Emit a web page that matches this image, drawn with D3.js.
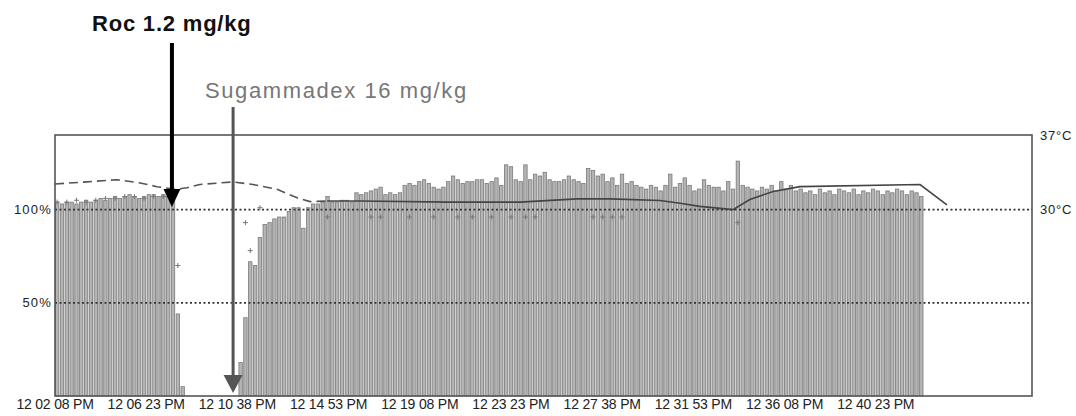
<!DOCTYPE html>
<html><head><meta charset="utf-8">
<script src="https://cdn.jsdelivr.net/npm/d3@7"></script>
<style>
html,body{margin:0;padding:0;background:#fff;}
svg{display:block;font-family:"Liberation Sans",Arial,sans-serif;}
</style></head>
<body><svg id="c" width="1076" height="416"></svg>
<script>
// ---------- data ----------
const axisStartClock = "12:02:08";
const axisEndClock = "12:47:40";
const tickClocks = ["12:02:08","12:06:23","12:10:38","12:14:53","12:19:08","12:23:23","12:27:38","12:31:53","12:36:08","12:40:23"];
const firstBarClock = "12:02:14";
const barIntervalSec = 13.5;
// TOF response (%) per measurement; null = no response recorded
const tofValues = [
 104,103,104,104,103,104,105,104,105,106,105,106,107,106,107,108,107,106,107,108,108,107,108,107,105,
 44,5,
 null,null,null,null,null,null,null,null,null,null,null,
 18,42,72,70,85,92,93,95,96,96,99,101,101,90,101,103,103,104,107,104,
 104,105,105,104,109,108,109,110,111,112,108,109,108,109,113,114,113,115,116,114,
 112,111,112,115,118,116,114,115,115,116,116,114,115,117,113,124,123,116,115,124,
 116,119,118,120,116,115,115,116,118,116,115,114,122,121,118,119,115,117,113,119,
 114,115,113,112,111,113,112,110,113,119,112,114,117,113,110,111,116,113,112,112,
 110,115,111,126,113,112,111,110,112,111,113,110,115,111,113,110,111,109,110,108,
 111,109,110,108,111,110,109,111,108,110,109,111,110,108,110,109,111,110,108,110,109,107
];
// T1 markers: measurement index and value (%)
const t1Index = [0,2,4,6,8,10,12,14,16,18,20,22,24,25,39,40,42,56,65,67,73,78,83,86,90,94,97,99,111,113,115,117,141];
const t1Values = [104,104,105,104,105,106,106,107,107,106,107,107,106,70,93,78,101,96,96,96,96,96,96,96,96,96,96,96,96,96,96,96,93];
// temperature (°C)
const tempClocks = ["12:02:08","12:03:37","12:05:01","12:06:06","12:06:53","12:07:44","12:08:17","12:08:53","12:10:26","12:11:22","12:12:29","12:13:25","12:14:01","12:14:49","12:16:21","12:20:32","12:23:48","12:26:28","12:28:00","12:30:20","12:31:16","12:32:11","12:33:44","12:34:31","12:35:36","12:36:51","12:42:27","12:43:42"];
const tempValues = [32.4,32.6,32.8,32.5,32.15,31.9,32.05,32.35,32.6,32.35,31.9,31.1,30.75,30.8,30.8,30.7,30.7,31.0,31.0,30.85,30.6,30.3,30.0,30.95,31.7,32.15,32.35,30.45];
const tempDashedCount = 14;
const yTickValues = [50,100];
const yTickLabels = ["50%","100%"];
const tempTickValues = [37,30];
const tempTickLabels = ["37°C","30°C"];
const annotations = [
  {label:"Roc 1.2 mg/kg", clock:"12:07:35"},
  {label:"Sugammadex 16 mg/kg", clock:"12:10:26"}
];

// ---------- drawing ----------
const svg = d3.select("#c");
const parse = d3.timeParse("%H:%M:%S");
const L = 55, R = 1032, T = 135, B = 396;

const x = d3.scaleTime().domain([parse(axisStartClock), parse(axisEndClock)]).range([L, R]);
const y = d3.scaleLinear().domain([0, 140]).range([B, T]);
const yT = d3.scaleLinear().domain([30, 37]).range([y(100), T]);

const t0 = parse(firstBarClock);
const bars = tofValues.map((v,i)=>({i, v, t: new Date(t0.getTime() + i*barIntervalSec*1000)}));
const barW = 3.4;

// bars
svg.append("g").selectAll("rect").data(bars.filter(d=>d.v!=null)).join("rect")
  .attr("x", d=>x(d.t)-barW/2).attr("width", barW)
  .attr("y", d=>y(d.v)).attr("height", d=>y(0)-y(d.v))
  .attr("fill","#b4b4b4").attr("stroke","#7a7a7a").attr("stroke-width",0.8);

// reference dotted lines
svg.append("g").selectAll("line").data(yTickValues).join("line")
  .attr("x1",L).attr("x2",R).attr("y1",d=>y(d)).attr("y2",d=>y(d))
  .attr("stroke","#333").attr("stroke-width",1.8).attr("stroke-dasharray","2,2.5");

// frame
svg.append("rect").attr("x",L).attr("y",T).attr("width",R-L).attr("height",B-T)
  .attr("fill","none").attr("stroke","#555").attr("stroke-width",1.6);

// temperature line
const tpts = tempClocks.map((c,i)=>({t:parse(c), v:tempValues[i]}));
const tline = d3.line().x(d=>x(d.t)).y(d=>yT(d.v));
svg.append("path").attr("d", tline(tpts.slice(0,tempDashedCount)))
  .attr("fill","none").attr("stroke","#555").attr("stroke-width",1.6).attr("stroke-dasharray","9,5");
svg.append("path").attr("d", tline(tpts.slice(tempDashedCount-1)))
  .attr("fill","none").attr("stroke","#444").attr("stroke-width",1.6);

// T1 markers
const mk = svg.append("g").attr("stroke","#777").attr("stroke-width",1);
t1Index.forEach((idx,k)=>{
  const cx = x(bars[idx].t), cy = y(t1Values[k]);
  mk.append("path").attr("d",`M${cx-2.5},${cy}H${cx+2.5}M${cx},${cy-2.5}V${cy+2.5}`);
});

// left labels
svg.append("g").selectAll("text").data(yTickValues).join("text")
  .attr("x",L-3).attr("y",d=>y(d)+4.5).attr("text-anchor","end")
  .attr("font-size",13).attr("fill","#222").attr("letter-spacing","1.2")
  .text((d,i)=>yTickLabels[i]);
// right labels
svg.append("g").selectAll("text").data(tempTickValues).join("text")
  .attr("x",R+8).attr("y",d=>yT(d)+4.5)
  .attr("font-size",13).attr("fill","#222").attr("letter-spacing","0.8")
  .text((d,i)=>tempTickLabels[i]);

// x axis labels
const fmt = d3.timeFormat("%I %M %S %p");
svg.append("g").selectAll("text").data(tickClocks.map(parse)).join("text")
  .attr("x",d=>x(d)).attr("y",409).attr("text-anchor","middle")
  .attr("font-size",14).attr("fill","#222").attr("letter-spacing","-0.2")
  .text(d=>fmt(d));

// annotations
const a0 = x(parse(annotations[0].clock));
svg.append("text").attr("x",92).attr("y",31).attr("font-size",22).attr("font-weight","bold")
  .attr("fill","#111").attr("letter-spacing","0.8").text(annotations[0].label);
svg.append("line").attr("x1",a0).attr("x2",a0).attr("y1",43).attr("y2",192)
  .attr("stroke","#000").attr("stroke-width",4);
svg.append("path").attr("d",`M${a0-8.5},189L${a0+8.5},189L${a0},207Z`).attr("fill","#000");

const a1 = x(parse(annotations[1].clock));
svg.append("text").attr("x",205).attr("y",98).attr("font-size",22)
  .attr("fill","#777").attr("letter-spacing","1.6").text(annotations[1].label);
svg.append("line").attr("x1",a1).attr("x2",a1).attr("y1",107).attr("y2",378)
  .attr("stroke","#555").attr("stroke-width",3);
svg.append("path").attr("d",`M${a1-9.5},375L${a1+9.5},375L${a1},393Z`).attr("fill","#555");
</script>
</body></html>
